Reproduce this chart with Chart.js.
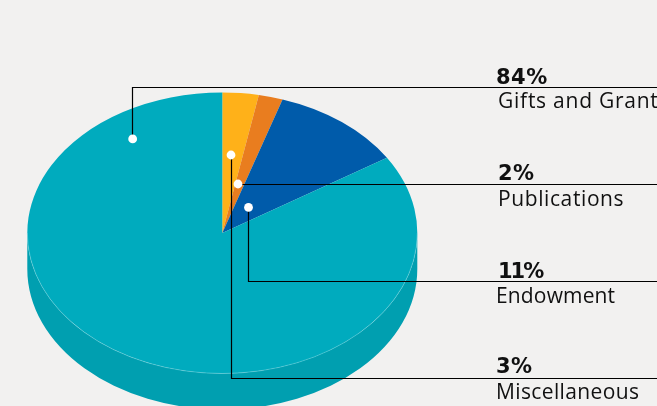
<!DOCTYPE html>
<html>
<head>
<meta charset="utf-8">
<title>Revenue sources</title>
<script src="https://cdn.jsdelivr.net/npm/chart.js@4"></script>
<style>
  html, body { margin: 0; padding: 0; background: #f2f1f0; overflow: hidden; }
  canvas { display: block; }
</style>
</head>
<body>
<canvas id="pieChart" width="657" height="406"></canvas>
<script>
// clockwise from 12 o'clock
const categories = ['Miscellaneous', 'Publications', 'Endowment', 'Gifts and Grants'];
const shares = [3, 2, 11, 84];
const topColors = ['#ffb119', '#e97d1f', '#005baa', '#00abbe'];
const wallColor = '#009fb0';

// where each leader starts inside its slice (fraction of slice angle, fraction of radius)
const dotAngle = [0.426, 0.306, 0.467, 0.886];
const dotRadius = [0.557, 0.358, 0.226, 0.812];
const lineY = [378.5, 184.5, 281.5, 87.5];
const labelX = [[496, 496], [498, 498], [498, 496], [496, 498]];
const percentBase = [373, 180, 278, 84];
const nameBase = [399, 206, 303, 108];
// fallback fonts run a bit wider or narrower per word than the original
const percentSpacing = ['0.5px', '0.5px', '-2px', '0.5px'];
const nameSpacing = ['0.37px', '0.6px', '0.15px', '0.75px'];

const pieCenterY = 233;
const squash = 140.5 / 195;
const wallDepth = 36;

// tilt the flat pie into an ellipse and give it a side wall
const tiltPlugin = {
  id: 'tilt',
  beforeDatasetsDraw(chart) {
    const ctx = chart.ctx;
    const {x, y, outerRadius: r} = chart.getDatasetMeta(0).data[0];

    // only the front half of the wall shows
    ctx.fillStyle = wallColor;
    ctx.beginPath();
    ctx.ellipse(x, pieCenterY, r, r * squash, 0, 0, Math.PI);
    ctx.ellipse(x, pieCenterY + wallDepth, r, r * squash, 0, Math.PI, 0, true);
    ctx.closePath();
    ctx.fill();

    ctx.save();
    ctx.translate(x, pieCenterY);
    ctx.scale(1, squash);
    ctx.translate(-x, -y);
  },
  afterDatasetsDraw(chart) {
    const ctx = chart.ctx;
    ctx.restore();

    const arcs = chart.getDatasetMeta(0).data;
    const {x, outerRadius: r} = arcs[0];

    // thin light rim where the top face meets the wall
    ctx.strokeStyle = 'rgba(150,225,235,0.55)';
    ctx.lineWidth = 0.7;
    ctx.beginPath();
    ctx.ellipse(x, pieCenterY, r, r * squash, 0, 0, Math.PI);
    ctx.stroke();

    // leaders
    arcs.forEach((arc, i) => {
      const a = arc.startAngle + (arc.endAngle - arc.startAngle) * dotAngle[i];
      const px = x + Math.cos(a) * r * dotRadius[i];
      const py = pieCenterY + Math.sin(a) * r * dotRadius[i] * squash;

      ctx.strokeStyle = '#000';
      ctx.lineWidth = 1.2;
      ctx.beginPath();
      ctx.moveTo(Math.floor(px) + 0.5, py);
      ctx.lineTo(Math.floor(px) + 0.5, lineY[i]);
      ctx.lineTo(chart.width, lineY[i]);
      ctx.stroke();

      ctx.fillStyle = '#fff';
      ctx.beginPath();
      ctx.arc(px, py, 4.4, 0, Math.PI * 2);
      ctx.fill();

      ctx.fillStyle = '#111';
      ctx.textBaseline = 'alphabetic';
      ctx.textAlign = 'left';
      ctx.font = 'bold 21px "DejaVu Sans"';
      ctx.letterSpacing = percentSpacing[i];
      ctx.fillText(shares[i] + '%', labelX[i][0], percentBase[i]);
      ctx.font = '500 21px "Open Sans"';
      ctx.letterSpacing = nameSpacing[i];
      ctx.fillText(categories[i], labelX[i][1], nameBase[i]);
    });
  }
};

new Chart(document.getElementById('pieChart'), {
  type: 'pie',
  data: {
    labels: categories,
    datasets: [{
      data: shares,
      backgroundColor: topColors,
      borderWidth: 0
    }]
  },
  options: {
    responsive: false,
    animation: false,
    events: [],
    layout: {
      padding: {left: 27.3, right: 239.7, top: 8, bottom: 8}
    },
    plugins: {
      legend: {display: false},
      tooltip: {enabled: false}
    }
  },
  plugins: [tiltPlugin]
});
</script>
</body>
</html>
